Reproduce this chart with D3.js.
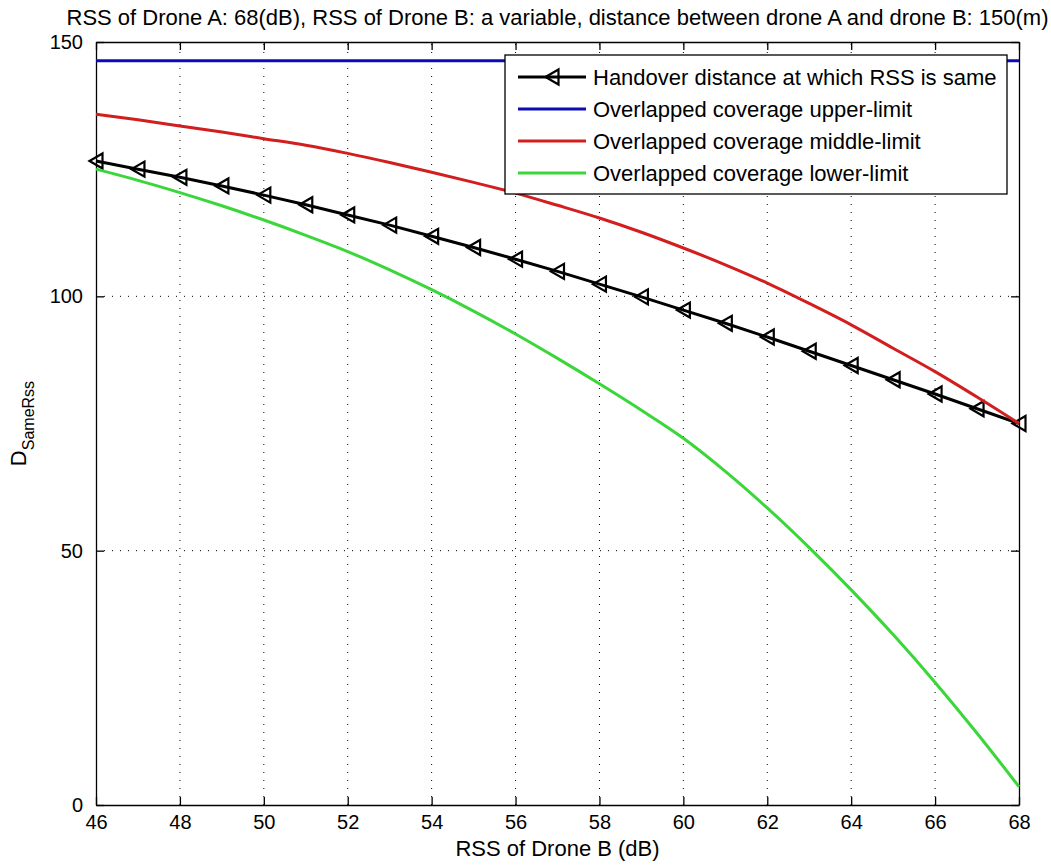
<!DOCTYPE html>
<html lang="en">
<head>
<meta charset="UTF-8">
<title>handover distance</title>
<script src="https://d3js.org/d3.v7.min.js"></script>
<style>
    body{margin:0;background:#fff;}
    text{font-family:Arial,"Liberation Sans",sans-serif;fill:#000;}
</style>
</head>
<body>
<svg id="chart" width="1051" height="868"></svg>
<script>
    // RSS of drone B (dB)
    const rssB = [46,47,48,49,50,51,52,53,54,55,56,57,58,59,60,61,62,63,64,65,66,67,68];
    // handover distance at which RSS is same
    const handover = [126.6,125.0,123.4,121.7,119.9,118.0,116.0,114.0,111.8,109.6,107.3,104.9,102.4,99.9,97.3,94.7,92.0,89.2,86.4,83.6,80.8,77.9,75.0];
    const upperX = [46,68];
    const upperLimit = [146.3,146.3];
    const middleLimit = [135.8,134.7,133.5,132.3,131.0,129.7,128.1,126.3,124.4,122.4,120.3,117.9,115.4,112.6,109.5,106.2,102.6,98.6,94.4,89.8,85.2,80.2,75.0];
    const lowerLimit = [125.0,122.8,120.4,117.8,115.0,112.0,108.8,105.2,101.3,97.1,92.6,87.8,82.8,77.6,72.1,65.6,58.4,50.6,42.3,33.5,24.1,14.1,3.6];
    const xTicks = [46,48,50,52,54,56,58,60,62,64,66,68];
    const yTicks = [0,50,100,150];
    const legendNames = ['Handover distance at which RSS is same','Overlapped coverage upper-limit','Overlapped coverage middle-limit','Overlapped coverage lower-limit'];
    const colors = ['#000000','#0c0cb4','#d21e1e','#3ad63a'];

    const W = 1051, H = 868;
    const margin = {left:96,right:32,top:42,bottom:63};
    const svg = d3.select('#chart');
    const x = d3.scaleLinear().domain([46,68]).range([margin.left,W-margin.right]);
    const y = d3.scaleLinear().domain([0,150]).range([H-margin.bottom,margin.top]);
    const fs = 22, tfs = 20;

    // grid
    const grid = svg.append('g').attr('class','grid');
    grid.selectAll('line.gx').data(xTicks.slice(1,-1)).join('line')
        .attr('x1',d=>x(d)).attr('x2',d=>x(d)).attr('y1',y(0)).attr('y2',y(150))
        .attr('stroke','#000').attr('stroke-width',1).attr('stroke-dasharray','1,7');
    grid.selectAll('line.gy').data(yTicks.slice(1,-1)).join('line')
        .attr('x1',x(46)).attr('x2',x(68)).attr('y1',d=>y(d)).attr('y2',d=>y(d))
        .attr('stroke','#000').attr('stroke-width',1).attr('stroke-dasharray','1,7');

    // axes, ticks pointing inside, on all four sides
    const tk = 8;
    svg.append('g').attr('transform',`translate(0,${y(0)})`)
        .call(d3.axisBottom(x).tickValues(xTicks).tickSizeInner(-tk).tickSizeOuter(0).tickPadding(10))
        .call(g=>g.selectAll('text').attr('font-size',tfs).attr('font-family','Arial, Liberation Sans, sans-serif'));
    svg.append('g').attr('transform',`translate(0,${y(150)})`)
        .call(d3.axisTop(x).tickValues(xTicks).tickSizeInner(-tk).tickSizeOuter(0).tickFormat(''));
    svg.append('g').attr('transform',`translate(${x(46)},0)`)
        .call(d3.axisLeft(y).tickValues(yTicks).tickSizeInner(-tk).tickSizeOuter(0).tickPadding(13))
        .call(g=>g.selectAll('text').attr('font-size',tfs).attr('font-family','Arial, Liberation Sans, sans-serif'));
    svg.append('g').attr('transform',`translate(${x(68)},0)`)
        .call(d3.axisRight(y).tickValues(yTicks).tickSizeInner(-tk).tickSizeOuter(0).tickFormat(''));
    svg.selectAll('.domain').attr('stroke','#000').attr('stroke-width',1.3);
    svg.selectAll('.tick line').attr('stroke','#000').attr('stroke-width',1.3);

    // series
    const line = d3.line().x(d=>x(d[0])).y(d=>y(d[1]));
    const smooth = d3.line().curve(d3.curveMonotoneX).x(d=>x(d[0])).y(d=>y(d[1]));
    const plot = svg.append('g');
    const tri = 'M-6.5,0L6.5,-7.5L6.5,7.5Z';
    plot.append('path').datum(d3.zip(rssB,handover)).attr('d',line)
        .attr('fill','none').attr('stroke',colors[0]).attr('stroke-width',3);
    plot.selectAll('path.mk').data(d3.zip(rssB,handover)).join('path').attr('class','mk')
        .attr('d',tri).attr('transform',d=>`translate(${x(d[0])},${y(d[1])})`)
        .attr('fill','none').attr('stroke','#000').attr('stroke-width',2.2);
    plot.append('path').datum(d3.zip(upperX,upperLimit)).attr('d',line)
        .attr('fill','none').attr('stroke',colors[1]).attr('stroke-width',3);
    plot.append('path').datum(d3.zip(rssB,middleLimit)).attr('d',smooth)
        .attr('fill','none').attr('stroke',colors[2]).attr('stroke-width',3);
    plot.append('path').datum(d3.zip(rssB,lowerLimit)).attr('d',smooth)
        .attr('fill','none').attr('stroke',colors[3]).attr('stroke-width',3);

    // legend
    const lg = svg.append('g').attr('transform','translate(505,55)');
    lg.append('rect').attr('width',502).attr('height',139).attr('fill','#fff').attr('stroke','#000').attr('stroke-width',1.3);
    const rows = lg.selectAll('g.row').data(legendNames).join('g')
        .attr('transform',(d,i)=>`translate(0,${22+i*32})`);
    rows.append('line').attr('x1',13).attr('x2',81).attr('y1',0).attr('y2',0)
        .attr('stroke',(d,i)=>colors[i]).attr('stroke-width',3);
    rows.filter((d,i)=>i===0).append('path').attr('d',tri).attr('transform','translate(47,0)')
        .attr('fill','none').attr('stroke','#000').attr('stroke-width',2.2);
    rows.append('text').attr('x',88).attr('y',8).attr('font-size',fs).text(d=>d);

    // labels
    svg.append('text').attr('x',(x(46)+x(68))/2).attr('y',25).attr('text-anchor','middle').attr('font-size',fs)
        .text('RSS of Drone A: 68(dB), RSS of Drone B: a variable, distance between drone A and drone B: 150(m)');
    svg.append('text').attr('x',(x(46)+x(68))/2).attr('y',856).attr('text-anchor','middle').attr('font-size',fs)
        .text('RSS of Drone B (dB)');
    const yl = svg.append('text').attr('transform',`translate(26,${(y(0)+y(150))/2}) rotate(-90)`).attr('text-anchor','middle').attr('font-size',fs);
    yl.append('tspan').text('D');
    yl.append('tspan').attr('font-size',16).attr('dy',8).text('SameRss');
</script>
</body>
</html>
